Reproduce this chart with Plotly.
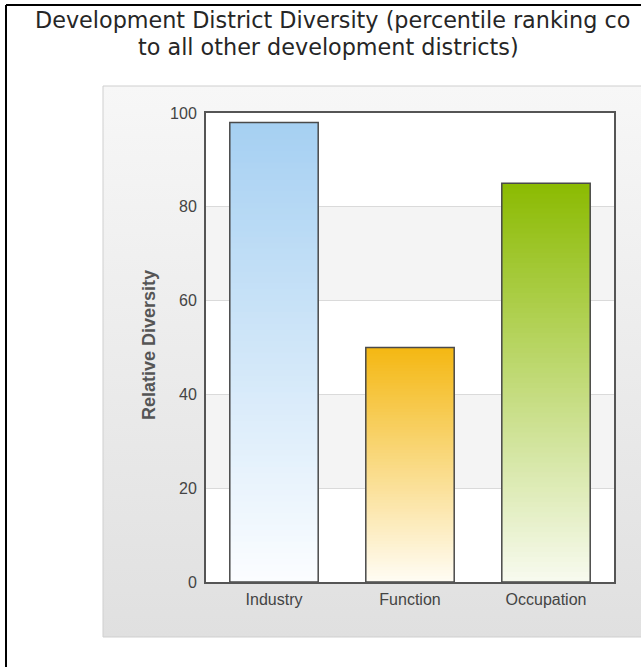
import base64
import plotly.graph_objects as go

# ---------------- data ----------------
categories = ["Industry", "Function", "Occupation"]
values = [98, 50, 85]
y_ticks = [0, 20, 40, 60, 80, 100]
title_line1 = "Development District Diversity (percentile ranking co"
title_line2 = "to all other development districts)"
y_title = "Relative Diversity"

# ---------------- styles ----------------
top_colors = ["#a6d0f2", "#f4b814", "#8cbb03"]
bottom_colors = ["#fbfdff", "#fffcf3", "#f7faee"]

W, H = 641, 667
L, R, T, B = 206, 27, 113, 85
PW = W - L - R
PH = H - T - B


def px(x):
    return (x - L) / PW


def py(y):
    return (H - B - y) / PH


def hex2rgb(h):
    h = h.lstrip("#")
    return tuple(int(h[i:i + 2], 16) for i in (0, 2, 4))


def mix(c1, c2, t):
    a, b = hex2rgb(c1), hex2rgb(c2)
    return "rgb(%d,%d,%d)" % tuple(round(a[i] + (b[i] - a[i]) * t) for i in range(3))


fig = go.Figure()

# gradient fill of each bar: overlaid bars of decreasing height from the value
N = 80
for cat, v, ct, cb in zip(categories, values, top_colors, bottom_colors):
    heights = [v * (N - k) / N for k in range(N)]
    colors = [mix(ct, cb, k / (N - 1)) for k in range(N)]
    fig.add_trace(go.Bar(
        x=[cat] * N, y=heights,
        marker=dict(color=colors, line=dict(width=0)),
        hoverinfo="skip", showlegend=False,
    ))

# bar outlines
fig.add_trace(go.Bar(
    x=categories, y=values,
    marker=dict(color="rgba(0,0,0,0)", line=dict(color="#4a4a4a", width=1.5)),
    showlegend=False,
))

# gray panel background as gradient image
svg = ("<svg xmlns='http://www.w3.org/2000/svg' width='100' height='100' preserveAspectRatio='none'>"
       "<defs><linearGradient id='g' x1='0' y1='0' x2='0' y2='1'>"
       "<stop offset='0' stop-color='#f7f7f7'/><stop offset='1' stop-color='#e0e0e0'/>"
       "</linearGradient></defs><rect width='100' height='100' fill='url(#g)'/></svg>")
src = "data:image/svg+xml;base64," + base64.b64encode(svg.encode()).decode()
fig.add_layout_image(dict(
    source=src, xref="paper", yref="paper",
    x=px(103), y=py(86), sizex=px(660) - px(103), sizey=py(86) - py(637),
    xanchor="left", yanchor="top", sizing="stretch", layer="below",
))

shapes = [
    # panel border
    dict(type="rect", xref="paper", yref="paper", x0=px(103), x1=px(660), y0=py(637), y1=py(86),
         line=dict(color="#cfcfcf", width=1), fillcolor="rgba(0,0,0,0)", layer="below"),
    # white plot area
    dict(type="rect", xref="x domain", yref="y domain", x0=0, x1=1, y0=0, y1=1,
         line=dict(width=0), fillcolor="white", layer="below"),
    # alternate bands
    dict(type="rect", xref="x domain", yref="y", x0=0, x1=1, y0=y_ticks[1], y1=y_ticks[2],
         line=dict(width=0), fillcolor="#f4f4f4", layer="below"),
    dict(type="rect", xref="x domain", yref="y", x0=0, x1=1, y0=y_ticks[3], y1=y_ticks[4],
         line=dict(width=0), fillcolor="#f4f4f4", layer="below"),
    # outer black frame
    dict(type="line", xref="paper", yref="paper", x0=px(6), x1=px(6), y0=py(5), y1=py(700),
         line=dict(color="black", width=2)),
    dict(type="line", xref="paper", yref="paper", x0=px(6), x1=px(700), y0=py(5), y1=py(5),
         line=dict(color="black", width=2)),
]

annotations = [
    dict(text=title_line1, xref="paper", yref="paper", x=px(33), y=py(20),
         xanchor="left", yanchor="middle", showarrow=False,
         font=dict(family="DejaVu Sans", size=22.3, color="#262626")),
    dict(text=title_line2, xref="paper", yref="paper", x=px(136), y=py(47),
         xanchor="left", yanchor="middle", showarrow=False,
         font=dict(family="DejaVu Sans", size=22.3, color="#262626")),
    dict(text="<b>" + y_title + "</b>", xref="paper", yref="paper", x=px(149), y=py(345),
         xanchor="center", yanchor="middle", textangle=-90, showarrow=False,
         font=dict(family="Liberation Sans", size=18, color="#555")),
]

fig.update_layout(
    width=W, height=H,
    margin=dict(l=L, r=R, t=T, b=B, pad=0),
    paper_bgcolor="white", plot_bgcolor="rgba(0,0,0,0)",
    barmode="overlay", bargap=0.35,
    shapes=shapes, annotations=annotations,
    showlegend=False,
    xaxis=dict(
        type="category", showgrid=False, showline=True, mirror=True,
        linecolor="#555", linewidth=2, ticks="", ticklabelstandoff=2,
        tickfont=dict(family="Liberation Sans", size=16, color="#444"),
    ),
    yaxis=dict(
        range=[0, 100], tickvals=y_ticks, showgrid=True, gridcolor="#dadada", gridwidth=1,
        zeroline=False, showline=True, mirror=True, linecolor="#555", linewidth=2,
        ticks="", ticklabelstandoff=4,
        tickfont=dict(family="Liberation Sans", size=16, color="#444"),
    ),
)

fig.write_html("out.html")
